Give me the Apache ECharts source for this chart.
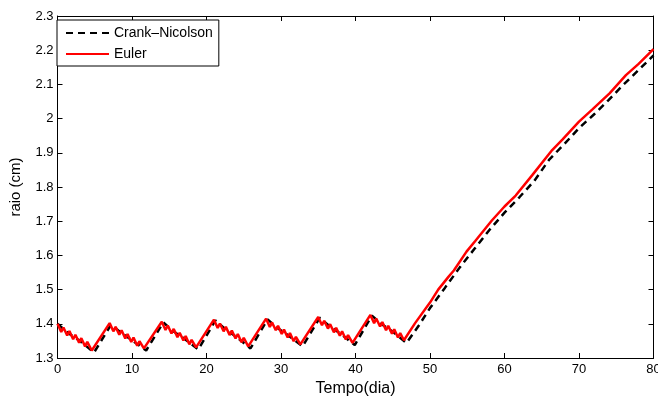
<!DOCTYPE html>
<html><head><meta charset="utf-8">
<script src="https://cdn.jsdelivr.net/npm/echarts@6/dist/echarts.min.js"></script>
<style>html,body{margin:0;padding:0;background:#fff;overflow:hidden}#c{width:658px;height:398px}</style>
</head><body><div id="c"></div>
<script>
// Data
const xTicks = [0, 10, 20, 30, 40, 50, 60, 70, 80];
const yTicks = [1.3, 1.4, 1.5, 1.6, 1.7, 1.8, 1.9, 2, 2.1, 2.2, 2.3];
const seriesNames = ['Crank\u2013Nicolson', 'Euler'];

const eulerT = [0,0.5,0.8,1.3,1.6,2.1,2.4,2.9,3.2,3.7,4.0,4.6,
  7,7.5,7.8,8.3,8.6,9.1,9.4,9.9,10.2,10.7,11.0,11.6,
  14,14.5,14.8,15.3,15.6,16.1,16.4,16.9,17.2,17.7,18.0,18.6,
  21,21.5,21.8,22.3,22.6,23.1,23.4,23.9,24.2,24.7,25.0,25.6,
  28,28.5,28.8,29.3,29.6,30.1,30.4,30.9,31.2,31.7,32.0,32.6,
  35,35.5,35.8,36.3,36.6,37.1,37.4,37.9,38.2,38.7,39.0,39.6,
  42,42.5,42.8,43.3,43.6,44.1,44.4,44.9,45.2,45.7,46.0,46.5,
  48.0,50,51.1,52.5,53.2,54.9,56.1,58.3,60,61.5,63.7,66.4,67.8,70,71.8,74.1,76.3,78,80];
const eulerR = [1.400,1.376,1.389,1.366,1.379,1.355,1.368,1.345,1.358,1.334,1.347,1.322,
  1.402,1.378,1.391,1.368,1.381,1.357,1.370,1.347,1.360,1.336,1.349,1.328,
  1.406,1.382,1.395,1.372,1.385,1.361,1.374,1.351,1.364,1.340,1.353,1.331,
  1.412,1.388,1.401,1.378,1.391,1.367,1.380,1.357,1.370,1.346,1.359,1.334,
  1.415,1.391,1.404,1.381,1.394,1.370,1.383,1.360,1.373,1.349,1.362,1.340,
  1.420,1.396,1.409,1.386,1.399,1.375,1.388,1.365,1.378,1.354,1.367,1.344,
  1.426,1.402,1.415,1.392,1.405,1.381,1.394,1.371,1.384,1.360,1.373,1.352,
  1.402,1.462,1.500,1.538,1.556,1.611,1.643,1.702,1.743,1.775,1.834,1.908,1.939,1.991,2.027,2.074,2.127,2.160,2.203];

const cnT = [0,1.5,3.0,4.9,
  7.2,8.5,10.0,11.9,
  14.2,15.5,17.0,18.9,
  21.2,22.5,24.0,25.9,
  28.2,29.5,31.0,32.9,
  35.2,36.5,38.0,39.9,
  42.2,43.5,45.0,46.85,
  48.5,50,52,54,56,58,60,62,64,66,68,70,72,74,76,78,80];
const cnR = [1.400,1.372,1.350,1.316,
  1.398,1.374,1.352,1.322,
  1.404,1.379,1.357,1.325,
  1.410,1.385,1.362,1.328,
  1.413,1.388,1.366,1.334,
  1.418,1.393,1.371,1.338,
  1.424,1.399,1.377,1.344,
  1.395,1.446,1.505,1.565,1.620,1.675,1.725,1.770,1.818,1.880,1.925,1.972,2.012,2.055,2.100,2.142,2.185];

const pairs = (t, r) => t.map((v, i) => [v, r[i]]);

const chart = echarts.init(document.getElementById('c'), null, {renderer: 'canvas', width: 658, height: 398});
const font = 'Liberation Sans, Arial, Helvetica, sans-serif';
const axisCommon = {
  axisLine: {show: true, onZero: false, lineStyle: {color: '#000', width: 1}},
  axisTick: {show: true, inside: true, length: 5, lineStyle: {color: '#000'}},
  splitLine: {show: false},
};
chart.setOption({
  animation: false,
  backgroundColor: '#fff',
  grid: {left: 57.5, right: 4.5, top: 16, bottom: 40, containLabel: false, outerBoundsMode: 'none'},
  legend: {
    orient: 'vertical', left: 57, top: 20,
    backgroundColor: '#fff', borderColor: '#000', borderWidth: 1, borderRadius: 0,
    padding: [6, 6, 5, 8], itemGap: 7, itemWidth: 43, itemHeight: 12,
    itemStyle: {opacity: 0},
    textStyle: {fontFamily: font, fontSize: 14, color: '#000'},
    data: seriesNames
  },
  xAxis: [
    Object.assign({type: 'value', min: xTicks[0], max: xTicks[xTicks.length-1], interval: 10, position: 'bottom',
      name: 'Tempo(dia)', nameLocation: 'middle', nameGap: 22,
      nameTextStyle: {fontFamily: font, fontSize: 16, color: '#000'},
      axisLabel: {fontFamily: font, fontSize: 13, color: '#000', margin: 5}}, axisCommon),
    Object.assign({type: 'value', min: xTicks[0], max: xTicks[xTicks.length-1], interval: 10, position: 'top',
      axisLabel: {show: false}}, axisCommon)
  ],
  yAxis: [
    Object.assign({type: 'value', min: yTicks[0], max: yTicks[yTicks.length-1], interval: 0.1, position: 'left',
      name: 'raio (cm)', nameLocation: 'middle', nameGap: 34, nameRotate: 90,
      nameTextStyle: {fontFamily: font, fontSize: 15, color: '#000'},
      axisLabel: {fontFamily: font, fontSize: 13, color: '#000', margin: 4,
        formatter: v => String(Math.round(v * 10) / 10)}}, axisCommon),
    Object.assign({type: 'value', min: yTicks[0], max: yTicks[yTicks.length-1], interval: 0.1, position: 'right',
      axisLabel: {show: false}}, axisCommon)
  ],
  series: [
    {name: seriesNames[0], type: 'line', data: pairs(cnT, cnR), symbol: 'none', z: 2,
      lineStyle: {color: '#000', width: 2.5, type: [7, 5]}, itemStyle: {color: '#000'}},
    {name: seriesNames[1], type: 'line', data: pairs(eulerT, eulerR), symbol: 'none', z: 3,
      lineStyle: {color: '#ff0000', width: 2.5}, itemStyle: {color: '#ff0000'}}
  ]
});
</script></body></html>
